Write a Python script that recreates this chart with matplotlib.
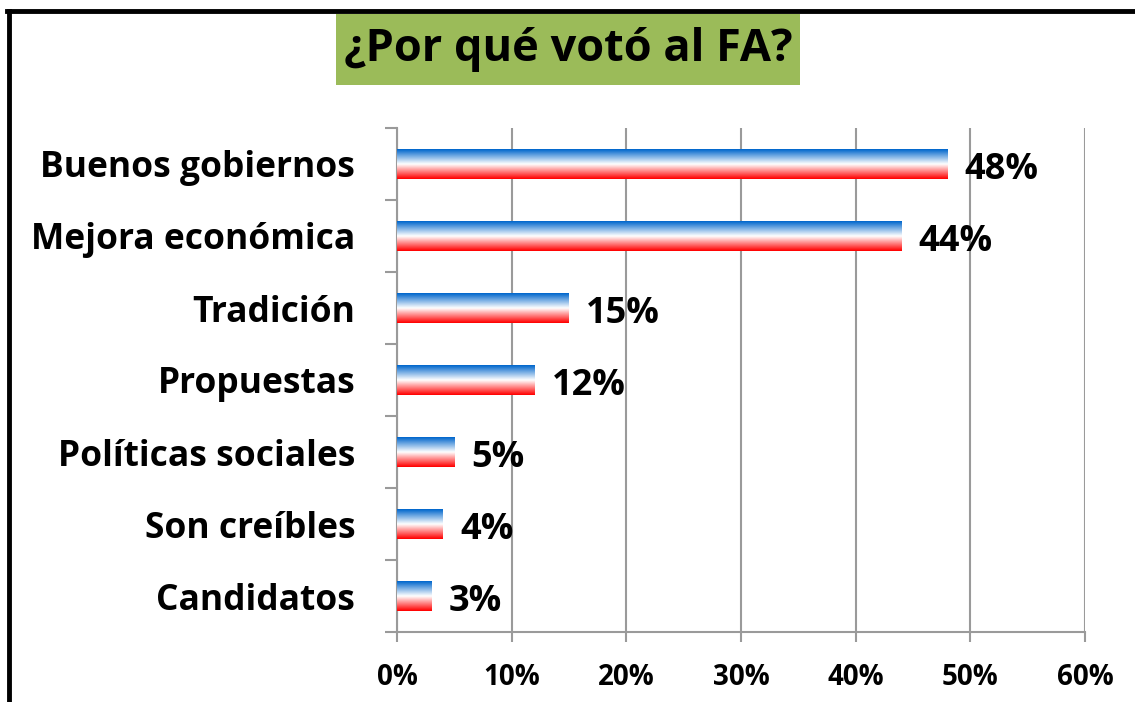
import numpy as np
import matplotlib
matplotlib.use('Agg')
import matplotlib.pyplot as plt
from matplotlib.patches import Rectangle
from matplotlib.lines import Line2D

categories = ['Buenos gobiernos', 'Mejora económica', 'Tradición', 'Propuestas',
              'Políticas sociales', 'Son creíbles', 'Candidatos']
values = [48, 44, 15, 12, 5, 4, 3]
xticks = [0, 10, 20, 30, 40, 50, 60]
title = '¿Por qué votó al FA?'

font = 'Open Sans'
plt.rcParams['font.family'] = [font, 'DejaVu Sans']

fig = plt.figure(figsize=(11.35, 7.02), dpi=100)
W, H = 1135, 702
ax = fig.add_axes([397 / W, 1 - 632 / H, (1085 - 397) / W, (632 - 128) / H])

# blue -> white -> red gradient for the bars
n = 64
t = np.linspace(0, 1, n)
top = np.array([0, 102, 204]) / 255
mid = np.array([1.0, 1.0, 1.0])
bot = np.array([1.0, 0.0, 0.0])
grad = np.zeros((n, 1, 3))
for i, tt in enumerate(t):
    if tt < 0.5:
        grad[i, 0] = top + (mid - top) * (tt / 0.5)
    else:
        grad[i, 0] = mid + (bot - mid) * ((tt - 0.5) / 0.5)

bar_h = 0.41
ncat = len(categories)
ypos = [ncat - 1 - i for i in range(ncat)]
for y, v in zip(ypos, values):
    ax.imshow(grad, extent=(0, v, y - bar_h / 2, y + bar_h / 2), aspect='auto',
              origin='upper', interpolation='bilinear', zorder=3)
    ax.text(v + 1.5, y - 0.08, f'{v}%', va='center', ha='left', fontsize=26,
            fontweight='bold', color='black', zorder=4)

ax.set_xlim(0, 60)
ax.set_ylim(-0.5, ncat - 0.5)
ax.set_xticks(xticks)
ax.set_xticklabels([f'{x}%' for x in xticks], fontsize=20, fontweight='bold')
ax.set_yticks(ypos)
ax.set_yticklabels(categories, fontsize=25.5, fontweight='bold')
ax.set_yticks(np.arange(-0.5, ncat, 1), minor=True)
ax.tick_params(axis='y', which='major', length=0, pad=30)
ax.tick_params(axis='y', which='minor', length=9, color='#9a9a9a', width=1.5)
ax.tick_params(axis='x', which='major', length=7, color='#9a9a9a', width=1.5, pad=15)
ax.grid(axis='x', color='#9a9a9a', linewidth=1.5, zorder=0)
ax.set_axisbelow(True)
for s in ['top', 'right']:
    ax.spines[s].set_visible(False)
for s in ['left', 'bottom']:
    ax.spines[s].set_color('#9a9a9a')
    ax.spines[s].set_linewidth(1.5)

# outer frame lines
fig.add_artist(Line2D([7 / W, 1], [1 - 11 / H, 1 - 11 / H], color='black', linewidth=3.5))
fig.add_artist(Line2D([8.5 / W, 8.5 / W], [0, 1 - 11 / H], color='black', linewidth=3.5))

# title box
fig.add_artist(Rectangle((336 / W, 1 - 85 / H), (800 - 336) / W, (85 - 14) / H,
                         transform=fig.transFigure, facecolor='#9BBB59', edgecolor='none'))
fig.text(568 / W, 1 - 50 / H, title, ha='center', va='center', fontsize=32.5,
         fontweight='bold', color='black')

fig.savefig('out.png', dpi=100)
